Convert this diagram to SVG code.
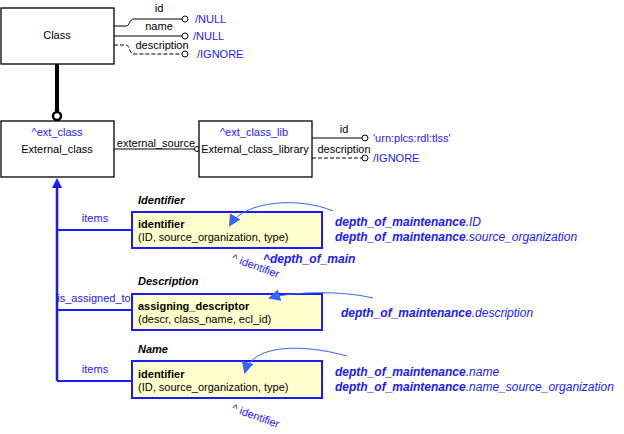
<svg xmlns="http://www.w3.org/2000/svg" width="624" height="434" viewBox="0 0 624 434">
<style>
text{font-family:"Liberation Sans",Arial,sans-serif;font-size:11px}
.k{fill:#000}.b{fill:#1a1aff}
.box{fill:#fff;stroke:#000;stroke-width:1.3}
.ybox{fill:#ffffcc;stroke:#1a1aff;stroke-width:2}
.bi{fill:#1a1aff;font-weight:bold;font-style:italic;font-size:12px}
.hd{font-weight:bold;font-style:italic}
</style>
<defs>
<marker id="ah" markerUnits="userSpaceOnUse" markerWidth="12" markerHeight="12" refX="10" refY="6" orient="auto"><path d="M0,0 L12,6 L0,12 z" fill="#3366ff"/></marker>
</defs>
<g id="connectors" fill="none">
<path d="M114,26 H126 C130,26 129,19 134,19 H182" stroke="#000"/>
<circle cx="185" cy="19" r="3" fill="#fff" stroke="#000"/>
<path d="M114,36 H182" stroke="#000"/>
<circle cx="185" cy="36" r="3" fill="#fff" stroke="#000"/>
<path d="M114,45 H126 C130,45 129,54 134,54 H182" stroke="#000" stroke-dasharray="4,2"/>
<circle cx="185" cy="54" r="3" fill="#fff" stroke="#000"/>
<path d="M57,64 V112" stroke="#000" stroke-width="4"/>
<circle cx="57" cy="116" r="4" fill="#fff" stroke="#000" stroke-width="2.5"/>
<path d="M114,149 H195" stroke="#000"/>
<circle cx="197" cy="149" r="2.5" fill="#fff" stroke="#000"/>
<path d="M312,138 H362" stroke="#000"/>
<circle cx="365" cy="138" r="3" fill="#fff" stroke="#000"/>
<path d="M312,158 H362" stroke="#000" stroke-dasharray="4,2"/>
<circle cx="365" cy="158" r="3" fill="#fff" stroke="#000"/>
<path d="M57,381 V186" stroke="#1a1aff" stroke-width="2.5"/>
<path d="M57,188 L52,188 L57,178 L62,188 z" fill="#1a1aff"/>
<path d="M57,230 H132 M57,310 H132 M57,381 H132" stroke="#1a1aff" stroke-width="2"/>
</g>
<g id="Class"><rect class="box" x="1" y="8" width="113" height="56"/><text x="57" y="39" text-anchor="middle">Class</text></g>
<text x="159" y="12" text-anchor="middle">id</text>
<text x="159" y="30" text-anchor="middle">name</text>
<text x="162" y="49" text-anchor="middle">description</text>
<text class="b" x="195" y="23">/NULL</text>
<text class="b" x="193" y="40">/NULL</text>
<text class="b" x="197" y="58">/IGNORE</text>
<g id="External_class"><rect class="box" x="1" y="121" width="113" height="56"/><text class="b" x="57" y="136" text-anchor="middle" font-size="12">^ext_class</text><text x="57" y="153" text-anchor="middle">External_class</text></g>
<text x="156" y="147" text-anchor="middle">external_source</text>
<g id="External_class_library"><rect class="box" x="199" y="121" width="113" height="56"/><text class="b" x="254" y="136" text-anchor="middle" font-size="12">^ext_class_lib</text><text x="255" y="153" text-anchor="middle">External_class_library</text></g>
<text x="344" y="133" text-anchor="middle">id</text>
<text x="344" y="153" text-anchor="middle">description</text>
<text class="b" x="373" y="142">'urn:plcs:rdl:tlss'</text>
<text class="b" x="373" y="162">/IGNORE</text>
<text class="b" x="95" y="222" text-anchor="middle">items</text>
<text class="b" x="94" y="302" text-anchor="middle">is_assigned_to</text>
<text class="b" x="95" y="373" text-anchor="middle">items</text>
<g id="Identifier"><text class="hd" x="138" y="204">Identifier</text><rect class="ybox" x="132" y="212" width="190" height="36"/><text x="138" y="228" font-weight="bold" font-size="12">identifier</text><text x="138" y="241">(ID, source_organization, type)</text></g>
<g id="Description"><text class="hd" x="138" y="285">Description</text><rect class="ybox" x="132" y="294" width="190" height="36"/><text x="138" y="310" font-weight="bold" font-size="12">assigning_descriptor</text><text x="138" y="323">(descr, class_name, ecl_id)</text></g>
<g id="Name"><text class="hd" x="138" y="353">Name</text><rect class="ybox" x="132" y="361" width="190" height="37"/><text x="138" y="378" font-weight="bold" font-size="12">identifier</text><text x="138" y="391">(ID, source_organization, type)</text></g>
<g id="mapping-arrows" fill="none" stroke="#3366ff">
<path d="M333,211 C300,197 245,200 230,225" marker-end="url(#ah)"/>
<path d="M373,298 C340,290 290,292 270,298" marker-end="url(#ah)"/>
<path d="M347,356 C300,343 252,345 245,372" marker-end="url(#ah)"/>
</g>
<text class="bi" x="335" y="226">depth_of_maintenance<tspan font-weight="normal">.ID</tspan></text>
<text class="bi" x="335" y="241">depth_of_maintenance<tspan font-weight="normal">.source_organization</tspan></text>
<text class="bi" x="263" y="263">^depth_of_main</text>
<text class="b" x="231" y="261" font-size="10" transform="rotate(20 231 261)">^ identifier</text>
<text class="bi" x="341" y="317">depth_of_maintenance<tspan font-weight="normal">.description</tspan></text>
<text class="bi" x="335" y="376">depth_of_maintenance<tspan font-weight="normal">.name</tspan></text>
<text class="bi" x="335" y="391">depth_of_maintenance<tspan font-weight="normal">.name_source_organization</tspan></text>
<text class="b" x="231" y="411" font-size="10" transform="rotate(20 231 411)">^ identifier</text>
</svg>
